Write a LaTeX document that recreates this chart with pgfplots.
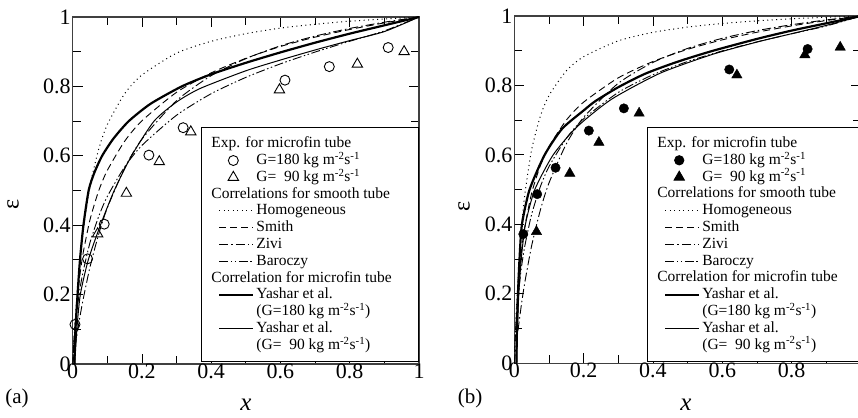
\documentclass[border=0pt]{standalone}
\usepackage{fontspec}
\setmainfont{Liberation Serif}
\usepackage{pgfplots}
\pgfplotsset{compat=1.18}

\pgfplotsset{
  lineleg/.style={legend image code/.code={\draw[##1] (0pt,0pt) -- (34pt,0pt);}},
  markleg/.style={legend image code/.code={\path[draw=none,fill=none] (0pt,0pt) -- (34pt,0pt); \draw[##1] plot[only marks] coordinates {(14pt,0pt)};}},
  myaxis/.style={
    scale only axis,
    xmin=0,xmax=1,ymin=0,ymax=1,
    xtick={0,0.2,0.4,0.6,0.8,1}, ytick={0,0.2,0.4,0.6,0.8,1},
    minor x tick num=1, minor y tick num=1,
    tick pos=both, xticklabel pos=lower, yticklabel pos=left,
    major tick length=10pt, minor tick length=8pt,
    tick style={black, line width=0.9pt},
    axis line style={line width=1.3pt, black!75},
    /pgf/number format/assume math mode=true,
    tick label style={font=\fontsize{22}{22}\selectfont},
    xticklabel style={yshift=4pt},
    yticklabel style={xshift=1.5pt},
    xlabel={\textit{x}}, ylabel={ε},
    xlabel style={anchor=center, font=\fontsize{25}{25}\selectfont},
    ylabel style={anchor=center, font=\fontsize{24}{24}\selectfont},
    legend cell align=left,
    legend style={draw=black, line width=0.8pt, fill=white, anchor=south west,
      inner xsep=17pt, inner ysep=8.7pt, row sep=1.8pt, column sep=2pt,
      font=\fontsize{15.5}{16}\selectfont,
      nodes={inner sep=0pt, text height=11.5pt, text depth=3.5pt}},
  },
  homog/.style={black, line width=1pt, dash pattern=on 1pt off 3.5pt},
  smith/.style={black, line width=0.9pt, dash pattern=on 7pt off 4pt},
  zivi/.style={black, line width=0.9pt, dash pattern=on 9pt off 3pt on 1.5pt off 3pt},
  baroczy/.style={black, line width=0.9pt, dash pattern=on 9pt off 2.5pt on 1.5pt off 2.5pt on 1.5pt off 2.5pt},
  ythick/.style={black, line width=2.2pt},
  ythin/.style={black, line width=1pt},
}

\begin{document}
\begin{tikzpicture}
% ---------------- panel (a) ----------------
\begin{axis}[myaxis, at={(72.7pt,53pt)}, anchor=south west,
  width=346.3pt, height=347pt,
  xlabel style={at={(axis description cs:0.5,-0.118)}},
  ylabel style={at={(axis description cs:-0.172,0.46)}},
  legend style={at={(0.370,0.006)}},
]
\addplot[forget plot, homog, smooth, tension=0.4] coordinates {(0,0)(0.002,0.0385)(0.005,0.0913)(0.01,0.168)(0.02,0.290)(0.03,0.382)(0.05,0.513)(0.075,0.619)(0.1,0.690)(0.15,0.779)(0.2,0.833)(0.3,0.896)(0.4,0.930)(0.5,0.952)(0.6,0.968)(0.7,0.979)(0.8,0.988)(0.9,0.994)(1,1)};
\addplot[forget plot, smith, smooth, tension=0.4] coordinates {(0,0)(0.002,0.0375)(0.005,0.086)(0.01,0.152)(0.02,0.249)(0.03,0.319)(0.05,0.416)(0.075,0.499)(0.1,0.558)(0.15,0.642)(0.2,0.701)(0.3,0.783)(0.4,0.839)(0.5,0.881)(0.6,0.915)(0.7,0.942)(0.8,0.964)(0.9,0.983)(1,1)};
\addplot[forget plot, zivi, smooth, tension=0.4] coordinates {(0,0)(0.002,0.0146)(0.005,0.0357)(0.01,0.0693)(0.02,0.1307)(0.03,0.1856)(0.05,0.2795)(0.075,0.374)(0.1,0.450)(0.15,0.565)(0.2,0.648)(0.3,0.759)(0.4,0.831)(0.5,0.880)(0.6,0.917)(0.7,0.945)(0.8,0.967)(0.9,0.985)(1,1)};
\addplot[forget plot, baroczy, smooth, tension=0.4] coordinates {(0,0)(0.002,0.0457)(0.005,0.0864)(0.01,0.137)(0.02,0.2105)(0.03,0.266)(0.05,0.350)(0.075,0.425)(0.1,0.483)(0.15,0.568)(0.2,0.630)(0.3,0.717)(0.4,0.779)(0.5,0.826)(0.6,0.865)(0.7,0.899)(0.8,0.930)(0.9,0.960)(1,1)};
\addplot[forget plot, ythick, smooth, tension=0.4] coordinates {(0.005,0)(0.008,0.1)(0.014,0.2)(0.021,0.3)(0.031,0.4)(0.046,0.5)(0.062,0.55)(0.085,0.6)(0.118,0.65)(0.162,0.7)(0.225,0.75)(0.315,0.8)(0.4,0.835)(0.5,0.868)(0.6,0.898)(0.7,0.926)(0.8,0.952)(0.9,0.976)(1,1)};
\addplot[forget plot, ythin, smooth, tension=0.4] coordinates {(0.006,0)(0.012,0.1)(0.022,0.2)(0.045,0.3)(0.08,0.4)(0.12,0.5)(0.17,0.6)(0.235,0.7)(0.3,0.755)(0.368,0.794)(0.5,0.845)(0.6,0.876)(0.7,0.905)(0.8,0.932)(0.9,0.958)(1,1)};
\addplot[forget plot, only marks, mark=o, mark size=5pt, mark options={black, line width=0.9pt}] coordinates {(0.0066,0.114)(0.043,0.303)(0.091,0.403)(0.220,0.602)(0.319,0.681)(0.613,0.818)(0.741,0.857)(0.911,0.912)};
\addplot[forget plot, only marks, mark=triangle, mark size=6pt, mark options={black, line width=0.9pt}] coordinates {(0.072,0.375)(0.155,0.492)(0.250,0.583)(0.341,0.669)(0.597,0.790)(0.822,0.864)(0.957,0.900)};
% legend
\addlegendimage{empty legend}\addlegendentry{\hspace*{-45pt}Exp. for microfin tube}
\addlegendimage{black, mark=o, mark size=5pt, mark options={black, line width=0.9pt}, markleg}\addlegendentry{G=180 kg m\textsuperscript{-2}s\textsuperscript{-1}}
\addlegendimage{black, mark=triangle, mark size=6pt, mark options={black, line width=0.9pt}, markleg}\addlegendentry{G=\hphantom{1}90 kg m\textsuperscript{-2}s\textsuperscript{-1}}
\addlegendimage{empty legend}\addlegendentry{\hspace*{-45pt}Correlations for smooth tube}
\addlegendimage{homog, lineleg}\addlegendentry{Homogeneous}
\addlegendimage{smith, lineleg}\addlegendentry{Smith}
\addlegendimage{zivi, lineleg}\addlegendentry{Zivi}
\addlegendimage{baroczy, lineleg}\addlegendentry{Baroczy}
\addlegendimage{empty legend}\addlegendentry{\hspace*{-45pt}Correlation for microfin tube\hspace*{9.6pt}}
\addlegendimage{ythick, lineleg}\addlegendentry{Yashar et al.}
\addlegendimage{empty legend}\addlegendentry{(G=180 kg m\textsuperscript{-2}s\textsuperscript{-1})}
\addlegendimage{ythin, lineleg}\addlegendentry{Yashar et al.}
\addlegendimage{empty legend}\addlegendentry{(G=\hphantom{1}90 kg m\textsuperscript{-2}s\textsuperscript{-1})}
\end{axis}

% ---------------- panel (b) ----------------
\begin{axis}[myaxis, at={(514.3pt,53.7pt)}, anchor=south west,
  width=346.7pt, height=347.3pt,
  xticklabels={0,0.2,0.4,0.6,0.8,{}},
  xlabel style={at={(axis description cs:0.495,-0.12)}},
  ylabel style={at={(axis description cs:-0.145,0.453)}},
  legend style={at={(0.382,0.0046)}},
]
\addplot[forget plot, homog, smooth, tension=0.4] coordinates {(0,0)(0.002,0.0573)(0.005,0.132)(0.01,0.234)(0.02,0.382)(0.03,0.484)(0.05,0.615)(0.075,0.711)(0.1,0.771)(0.15,0.842)(0.2,0.883)(0.3,0.9285)(0.4,0.953)(0.5,0.968)(0.6,0.9785)(0.7,0.986)(0.8,0.992)(0.9,0.9963)(1,1)};
\addplot[forget plot, smith, smooth, tension=0.4] coordinates {(0,0)(0.002,0.0551)(0.005,0.1215)(0.01,0.205)(0.02,0.3168)(0.03,0.3915)(0.05,0.490)(0.075,0.569)(0.1,0.624)(0.15,0.700)(0.2,0.752)(0.3,0.822)(0.4,0.869)(0.5,0.904)(0.6,0.9314)(0.7,0.9533)(0.8,0.9715)(0.9,0.9869)(1,1)};
\addplot[forget plot, zivi, smooth, tension=0.4] coordinates {(0,0)(0.002,0.0191)(0.005,0.0466)(0.01,0.0894)(0.02,0.1655)(0.03,0.2311)(0.05,0.3384)(0.075,0.4407)(0.1,0.5192)(0.15,0.6317)(0.2,0.7083)(0.3,0.8064)(0.4,0.8663)(0.5,0.9067)(0.6,0.9358)(0.7,0.9578)(0.8,0.9749)(0.9,0.9887)(1,1)};
\addplot[forget plot, baroczy, smooth, tension=0.4] coordinates {(0,0)(0.002,0.0627)(0.005,0.1168)(0.01,0.1813)(0.02,0.2714)(0.03,0.3362)(0.05,0.429)(0.075,0.5083)(0.1,0.5662)(0.15,0.6477)(0.2,0.704)(0.3,0.780)(0.4,0.831)(0.5,0.869)(0.6,0.8995)(0.7,0.9255)(0.8,0.9488)(0.9,0.9712)(1,1)};
\addplot[forget plot, ythick, smooth, tension=0.4] coordinates {(0.006,0)(0.0077,0.1)(0.0106,0.2)(0.015,0.3)(0.022,0.4)(0.044,0.5)(0.0875,0.6)(0.1376,0.675)(0.2,0.728)(0.234,0.755)(0.3,0.795)(0.378,0.834)(0.47,0.868)(0.57,0.899)(0.7,0.934)(0.8,0.958)(0.9,0.979)(1,1)};
\addplot[forget plot, ythin, smooth, tension=0.4] coordinates {(0.007,0)(0.009,0.1)(0.013,0.2)(0.02,0.3)(0.032,0.4)(0.059,0.5)(0.112,0.6)(0.18,0.68)(0.28,0.76)(0.42,0.835)(0.57,0.889)(0.7,0.925)(0.8,0.949)(0.9,0.973)(1,1)};
\addplot[forget plot, only marks, mark=*, mark size=4.7pt, mark options={black}] coordinates {(0.026,0.372)(0.066,0.487)(0.119,0.563)(0.215,0.670)(0.316,0.734)(0.620,0.846)(0.846,0.905)};
\addplot[forget plot, only marks, mark=triangle*, mark size=6pt, mark options={black}] coordinates {(0.064,0.379)(0.160,0.547)(0.244,0.636)(0.360,0.720)(0.642,0.830)(0.838,0.888)(0.940,0.910)};
% legend
\addlegendimage{empty legend}\addlegendentry{\hspace*{-45pt}Exp. for microfin tube}
\addlegendimage{black, mark=*, mark size=4.7pt, mark options={black}, markleg}\addlegendentry{G=180 kg m\textsuperscript{-2}s\textsuperscript{-1}}
\addlegendimage{black, mark=triangle*, mark size=6pt, mark options={black}, markleg}\addlegendentry{G=\hphantom{1}90 kg m\textsuperscript{-2}s\textsuperscript{-1}}
\addlegendimage{empty legend}\addlegendentry{\hspace*{-45pt}Correlations for smooth tube}
\addlegendimage{homog, lineleg}\addlegendentry{Homogeneous}
\addlegendimage{smith, lineleg}\addlegendentry{Smith}
\addlegendimage{zivi, lineleg}\addlegendentry{Zivi}
\addlegendimage{baroczy, lineleg}\addlegendentry{Baroczy}
\addlegendimage{empty legend}\addlegendentry{\hspace*{-45pt}Correlation for microfin tube\hspace*{9.6pt}}
\addlegendimage{ythick, lineleg}\addlegendentry{Yashar et al.}
\addlegendimage{empty legend}\addlegendentry{(G=180 kg m\textsuperscript{-2}s\textsuperscript{-1})}
\addlegendimage{ythin, lineleg}\addlegendentry{Yashar et al.}
\addlegendimage{empty legend}\addlegendentry{(G=\hphantom{1}90 kg m\textsuperscript{-2}s\textsuperscript{-1})}
\end{axis}

\node[font=\fontsize{21}{21}\selectfont] at (17pt,19pt) {(a)};
\node[font=\fontsize{21}{21}\selectfont] at (470pt,19pt) {(b)};

\pgfresetboundingbox
\path[use as bounding box] (0,0) rectangle (858pt,417pt);
\end{tikzpicture}
\end{document}
